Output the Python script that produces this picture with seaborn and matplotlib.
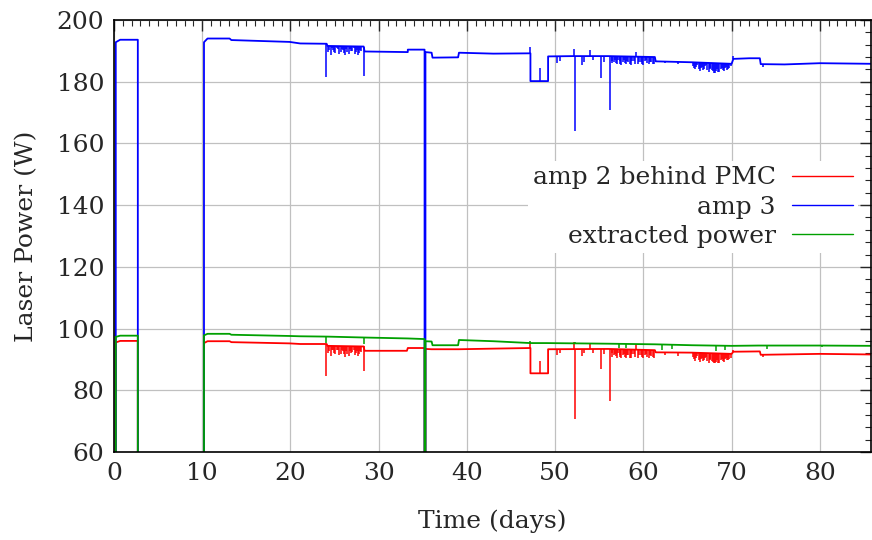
import numpy as np
import pandas as pd
import matplotlib
matplotlib.use("Agg")
import matplotlib.pyplot as plt
from matplotlib.ticker import MultipleLocator
import seaborn as sns

# base levels (time in days, power in W); 0 W = laser off
amp3_t = [0.0, 0.2, 0.2, 0.7, 2.7, 2.7, 10.2, 10.2, 10.6, 13.1, 13.3, 19.9, 21.1, 24.1,
          24.2, 28.3, 28.4, 33.3, 33.3, 35.2, 35.2, 35.3, 35.3, 36.0, 36.1, 39.0, 39.1,
          43.0, 47.2, 47.2, 49.2, 49.2, 52.0, 56.0, 61.3, 61.4, 65.5, 70.0, 70.2, 72.0,
          73.2, 73.3, 76.0, 80.0, 86.0]
amp3_p = [0, 0, 192.8, 193.6, 193.6, 0, 0, 192.8, 194.0, 194.0, 193.5, 192.9, 192.4, 192.3,
          191.6, 191.4, 189.8, 189.6, 190.4, 190.4, 0, 0, 189.6, 189.4, 187.8, 187.9, 189.4,
          189.1, 189.2, 180.2, 180.2, 188.2, 188.3, 188.3, 188.0, 186.6, 186.3, 185.8, 187.4, 187.6,
          187.6, 185.7, 185.6, 186.0, 185.8]

amp2_t = [0.0, 0.2, 0.2, 0.7, 2.7, 2.7, 10.2, 10.2, 10.6, 13.1, 13.3, 19.9, 21.1, 24.1,
          24.2, 28.3, 28.4, 33.2, 33.3, 35.2, 35.2, 35.3, 35.3, 36.0, 39.1, 43.0, 47.2,
          47.2, 49.2, 49.2, 56.0, 61.3, 61.4, 65.5, 70.0, 70.2, 73.2, 73.3, 80.0, 86.0]
amp2_p = [0, 0, 95.5, 96.0, 96.0, 0, 0, 95.3, 95.9, 95.9, 95.6, 95.2, 95.0, 95.0,
          94.4, 94.2, 92.8, 92.8, 93.7, 93.7, 0, 0, 93.4, 93.3, 93.3, 93.5, 93.7,
          85.5, 85.5, 93.3, 93.4, 93.0, 92.3, 92.2, 91.8, 92.5, 92.6, 91.5, 91.8, 91.6]

ext_t = [0.0, 0.2, 0.2, 0.7, 2.7, 2.7, 10.2, 10.2, 10.6, 13.1, 13.3, 19.9, 21.1, 24.1,
         28.4, 33.3, 35.2, 35.2, 35.3, 35.3, 36.0, 36.1, 39.0, 39.1, 43.0, 47.2, 49.0,
         56.0, 61.3, 65.5, 70.0, 73.0, 80.0, 86.0]
ext_p = [0, 0, 97.3, 97.7, 97.7, 0, 0, 97.8, 98.3, 98.3, 98.0, 97.6, 97.5, 97.4,
         97.1, 96.8, 96.6, 0, 0, 95.9, 95.8, 94.6, 94.6, 96.3, 95.9, 95.3, 95.3,
         95.1, 94.9, 94.6, 94.4, 94.5, 94.5, 94.4]

# short excursions: time, level before the excursion, extreme value
amp3_spk_t = [24.07, 24.25, 24.4, 24.55, 24.7, 24.82, 24.95, 25.08, 25.25, 25.39, 25.55, 25.69,
              25.82, 25.96, 26.1, 26.22, 26.35, 26.45, 26.6, 26.71, 26.85, 27.01, 27.15, 27.28,
              27.4, 27.5, 27.65, 27.77, 27.9, 28.04, 28.3, 47.2, 48.3, 50.16, 50.6, 52.15, 52.2,
              53.1, 53.3, 54.0, 54.3, 55.15, 55.5, 56.2, 56.4, 56.5, 56.65, 56.8, 56.9, 57.0,
              57.15, 57.3, 57.4, 57.5, 57.65, 57.8, 57.9, 58.0, 58.15, 58.3, 58.45, 58.6, 58.75,
              58.9, 59.05, 59.2, 59.4, 59.55, 59.7, 59.85, 60.0, 60.15, 60.3, 60.45, 60.6, 60.75,
              60.9, 61.05, 61.2, 62.5, 63.9, 65.6, 65.75, 65.9, 66.0, 66.1, 66.25, 66.4, 66.5,
              66.6, 66.75, 66.9, 67.0, 67.1, 67.25, 67.4, 67.5, 67.6, 67.75, 67.9, 68.0, 68.1,
              68.25, 68.4, 68.5, 68.6, 68.75, 68.9, 69.0, 69.1, 69.25, 69.4, 69.5, 69.6, 69.75,
              69.9, 70.2, 73.6]
amp3_spk_lo = [192.3, 191.6, 191.6, 191.6, 191.6, 191.6, 191.6, 191.6, 191.6, 191.6, 191.5, 191.5,
               191.5, 191.5, 191.5, 191.5, 191.5, 191.5, 191.5, 191.5, 191.5, 191.5, 191.5, 191.5,
               191.4, 191.4, 191.4, 191.4, 191.4, 191.4, 191.4, 189.2, 180.2, 188.2, 188.2, 188.3, 188.3,
               188.3, 188.3, 188.3, 188.3, 188.3, 188.3, 188.3, 188.3, 188.3, 188.3, 188.3, 188.3, 188.3,
               188.3, 188.3, 188.3, 188.3, 188.3, 188.3, 188.3, 188.2, 188.2, 188.2, 188.2, 188.2, 188.2,
               188.2, 188.2, 188.2, 188.2, 188.2, 188.2, 188.2, 188.1, 188.1, 188.1, 188.1, 188.1, 188.1,
               188.1, 188.0, 188.0, 186.5, 186.4, 186.3, 186.3, 186.3, 186.3, 186.3, 186.2, 186.2, 186.2,
               186.2, 186.2, 186.2, 186.1, 186.1, 186.1, 186.1, 186.1, 186.1, 186.0, 186.0, 186.0, 186.0,
               186.0, 186.0, 186.0, 186.0, 185.9, 185.9, 185.9, 185.9, 185.9, 185.9, 185.8, 185.8, 185.8,
               185.8, 187.4, 185.7]
amp3_spk_hi = [181.6, 189.5, 190.4, 188.8, 190.9, 190.3, 189.6, 189.2, 190.8, 190.6, 189.1, 189.7,
               190.7, 190.2, 189.4, 188.6, 190.5, 189.5, 188.9, 190.5, 189.8, 189.9, 190.8, 189.0,
               189.6, 190.2, 188.8, 189.3, 190.4, 190.0, 181.8, 191.4, 184.3, 186.2, 186.8, 190.5, 164.1,
               185.4, 186.5, 190.3, 187.0, 181.1, 186.5, 170.8, 186.8, 186.0, 186.5, 187.0, 186.2, 185.6,
               187.1, 186.6, 185.9, 185.5, 186.4, 186.9, 186.1, 185.8, 186.6, 186.3, 185.6, 185.4, 186.7,
               186.8, 185.9, 189.7, 185.7, 186.5, 186.4, 185.8, 185.5, 186.6, 186.9, 186.0, 185.8, 186.4,
               186.3, 185.9, 185.6, 186.0, 185.7, 185.2, 184.5, 184.0, 184.9, 185.5, 184.2, 183.6, 184.4,
               184.8, 183.8, 184.2, 185.0, 185.3, 183.9, 183.1, 184.0, 184.5, 183.7, 183.4, 182.9, 182.7,
               183.6, 184.1, 183.2, 183.0, 184.0, 184.6, 183.8, 183.5, 184.3, 184.8, 183.9, 184.0, 184.6,
               185.0, 188.3, 184.8]

amp2_spk_t = amp3_spk_t
amp2_spk_lo = [95.0, 94.4, 94.4, 94.4, 94.4, 94.4, 94.4, 94.4, 94.4, 94.4, 94.3, 94.3,
               94.3, 94.3, 94.3, 94.3, 94.3, 94.3, 94.3, 94.3, 94.3, 94.3, 94.3, 94.3,
               94.2, 94.2, 94.2, 94.2, 94.2, 94.2, 94.2, 93.7, 85.5, 93.3, 93.3, 93.3, 93.3,
               93.3, 93.3, 93.3, 93.3, 93.4, 93.4, 93.4, 93.4, 93.4, 93.4, 93.4, 93.4, 93.4,
               93.3, 93.3, 93.3, 93.3, 93.3, 93.3, 93.3, 93.3, 93.2, 93.2, 93.2, 93.2, 93.2,
               93.2, 93.2, 93.2, 93.2, 93.1, 93.1, 93.1, 93.1, 93.1, 93.1, 93.1, 93.1, 93.0,
               93.0, 93.0, 93.0, 92.3, 92.3, 92.2, 92.2, 92.2, 92.2, 92.2, 92.1, 92.1, 92.1,
               92.1, 92.1, 92.1, 92.0, 92.0, 92.0, 92.0, 92.0, 92.0, 92.0, 92.0, 91.9, 91.9,
               91.9, 91.9, 91.9, 91.9, 91.9, 91.9, 91.9, 91.9, 91.8, 91.8, 91.8, 91.8, 91.8,
               91.8, 92.5, 91.5]
amp2_spk_hi = [84.6, 92.0, 92.8, 91.2, 93.2, 93.0, 92.1, 91.6, 93.1, 92.9, 91.4, 91.8,
               93.0, 92.6, 91.7, 90.9, 92.8, 91.9, 91.2, 92.8, 92.1, 92.3, 93.1, 91.3,
               92.0, 92.7, 91.1, 91.6, 92.8, 92.4, 86.4, 95.7, 89.5, 91.4, 92.0, 95.7, 70.6,
               91.2, 92.0, 95.4, 92.2, 86.8, 91.9, 76.6, 92.0, 90.8, 91.4, 91.9, 91.0, 90.5,
               92.0, 91.4, 90.8, 90.4, 91.3, 91.7, 90.9, 90.6, 91.5, 91.3, 90.5, 90.4, 91.6,
               91.8, 90.8, 95.0, 90.6, 91.4, 91.3, 90.7, 90.5, 91.5, 91.7, 90.9, 90.6, 91.4,
               91.2, 90.8, 90.5, 91.5, 91.2, 90.9, 90.2, 89.6, 90.5, 91.0, 89.8, 89.2, 90.1,
               90.4, 89.5, 89.7, 90.5, 90.9, 89.6, 88.9, 89.7, 90.2, 89.4, 89.1, 88.8, 88.7,
               89.3, 89.8, 89.0, 88.9, 89.7, 90.3, 89.5, 89.2, 90.0, 90.5, 89.7, 89.7, 90.2,
               90.6, 93.2, 90.7]

ext_spk_t = [24.07, 28.3, 47.2, 52.2, 57.2, 58.0, 62.06, 63.2, 68.2, 69.2, 73.96, 80.2]
ext_spk_lo = [97.4, 97.1, 95.3, 95.1, 95.1, 95.1, 94.9, 94.8, 94.5, 94.4, 94.5, 94.5]
ext_spk_hi = [95.2, 95.0, 96.0, 95.8, 93.6, 93.8, 93.1, 93.3, 92.8, 93.1, 93.3, 94.0]

labels = ["amp 2 behind PMC", "amp 3", "extracted power"]
colors = ["#ff0000", "#0000ff", "#00a000"]

sns.set_style("white")
plt.rcParams["font.family"] = ["DejaVu Serif"]

fig = plt.figure(figsize=(8.72, 5.4), dpi=100)
ax = fig.add_axes([114 / 872, 1 - 452 / 540, 757 / 872, 432 / 540])

series = [(amp2_t, amp2_p, amp2_spk_t, amp2_spk_lo, amp2_spk_hi),
          (amp3_t, amp3_p, amp3_spk_t, amp3_spk_lo, amp3_spk_hi),
          (ext_t, ext_p, ext_spk_t, ext_spk_lo, ext_spk_hi)]

for (t, p, st, slo, shi), lab, col in zip(series, labels, colors):
    df = pd.DataFrame({"t": t, "p": p})
    sns.lineplot(data=df, x="t", y="p", sort=False, estimator=None, color=col,
                 lw=1.3, label=lab, ax=ax)
    ax.vlines(st, slo, shi, color=col, lw=1.1)

ax.set_xlim(0, 85.8)
ax.set_ylim(60, 200)
ax.xaxis.set_major_locator(MultipleLocator(10))
ax.xaxis.set_minor_locator(MultipleLocator(1))
ax.yaxis.set_major_locator(MultipleLocator(20))
ax.yaxis.set_minor_locator(MultipleLocator(4))
ax.tick_params(which="both", direction="in", top=True, right=True, labelsize=18, pad=7)
ax.tick_params(which="major", length=8, width=1.0)
ax.tick_params(which="minor", length=4, width=0.8)
ax.grid(True, which="major", color="#c0c0c0", lw=0.9)
for s in ax.spines.values():
    s.set_linewidth(1.2)
    s.set_color("black")

ax.set_xlabel("Time (days)", fontsize=18, labelpad=18)
ax.set_ylabel("Laser Power (W)", fontsize=18, labelpad=13)

leg = ax.legend(loc="center right", bbox_to_anchor=(0.983, 0.567), borderaxespad=0,
                markerfirst=False, frameon=True, facecolor="white", edgecolor="none",
                framealpha=1, fontsize=18, handlelength=2.45, handletextpad=0.64,
                labelspacing=0.25, borderpad=0.2, fancybox=False)
for col in leg._legend_handle_box.get_children():
    col.align = "right"
for h in leg.get_lines():
    h.set_linewidth(1.0)

fig.savefig("out.png", dpi=100)
